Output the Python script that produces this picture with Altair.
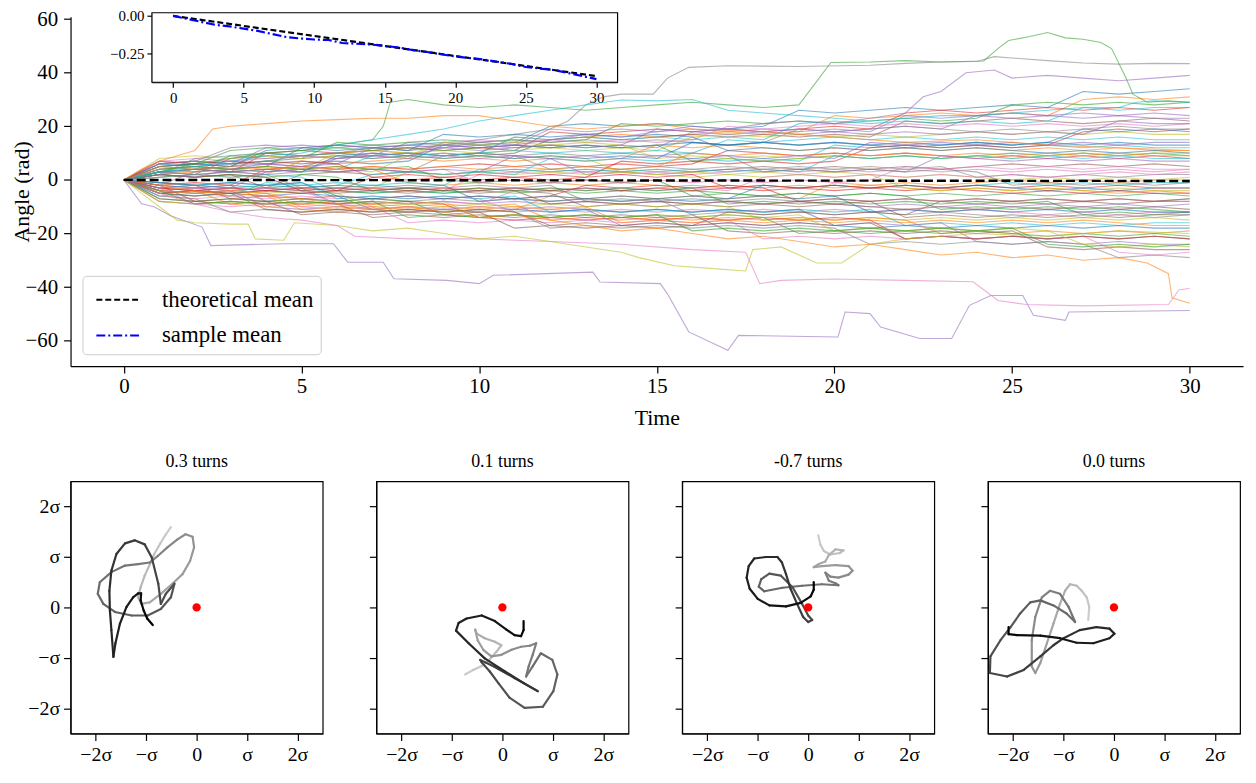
import altair as alt
import pandas as pd

FONT = "Liberation Serif"
TAB10 = ["#1f77b4", "#ff7f0e", "#2ca02c", "#d62728", "#9467bd",
         "#8c564b", "#e377c2", "#7f7f7f", "#bcbd22", "#17becf"]

# ---------------- main panel: simulated angle paths (t = 0..30) ----------------
T_GRID = list(range(31))
WALKS = [
    [0,4,5,4,5,12,13,12,13,14,13,14,20,21,20,21,20,19,20,26,25,26,27,26,27,28,27,33,32,33,34],
    [0,2,3,9,10,9,10,11,10,9,10,16,15,16,17,16,17,18,17,18,24,23,24,25,24,25,24,30,31,30,31],
    [0,6,7,6,7,8,14,13,14,15,14,15,14,15,21,20,21,22,21,22,21,22,23,22,23,28,29,28,29,28,29],
    [0,3,4,3,10,11,10,11,12,11,12,11,18,17,18,19,18,19,18,19,20,19,25,26,25,26,27,26,27,26,27],
    [0,5,6,5,6,5,6,12,11,12,11,12,13,12,13,19,18,19,18,19,18,19,20,19,24,25,24,25,24,25,24],
    [0,1,2,8,9,8,9,10,9,10,9,10,15,16,15,16,17,16,17,16,17,16,22,21,22,23,22,21,22,23,22],
    [0,7,8,7,8,9,8,9,8,14,15,14,15,14,15,14,15,20,19,20,21,20,21,20,21,20,21,20,21,20,21],
    [0,2,8,9,8,9,8,9,14,13,14,15,14,15,14,15,14,13,14,19,18,19,20,19,18,19,18,19,20,19,19],
    [0,4,3,4,5,4,10,11,10,11,10,11,12,11,12,11,16,17,16,17,16,17,16,17,18,17,18,17,18,17,17],
    [0,3,4,3,4,3,4,9,10,9,10,11,10,11,10,11,10,15,14,15,16,15,16,15,16,15,16,15,16,15,15],
    [0,6,5,6,7,6,7,6,7,13,12,13,12,13,12,13,14,13,14,13,14,13,12,13,14,13,14,13,14,13,13],
    [0,1,2,1,2,7,6,7,8,7,8,7,8,7,8,13,12,13,12,11,12,11,12,11,12,11,12,11,12,11,11],
    [0,5,6,11,12,11,12,11,12,11,12,13,12,13,12,13,7,8,7,8,9,8,9,8,9,10,9,10,9,10,9],
    [0,-2,-1,-2,4,5,4,5,4,5,6,5,6,5,6,5,6,11,10,9,10,9,10,9,8,9,8,9,8,9,8],
    [0,3,2,3,2,3,8,9,8,9,8,9,8,2,3,2,3,4,3,4,3,4,3,9,8,7,8,7,8,7,7],
    [0,-4,-3,-4,-3,2,3,2,3,2,3,4,3,4,3,4,3,4,5,4,5,4,5,4,5,6,5,6,5,6,5],
    [0,2,1,2,1,-4,-3,-4,-3,-4,2,3,2,3,2,3,2,3,4,3,4,3,4,3,4,3,4,3,4,3,4],
    [0,5,4,5,10,9,10,9,10,9,10,9,4,5,4,5,4,5,4,5,4,5,4,5,1,2,1,2,1,2,2],
    [0,-3,-2,-3,-2,-3,-2,-3,3,2,3,2,3,2,3,2,1,2,1,2,1,2,1,2,1,0,1,0,1,0,1],
    [0,1,2,1,2,1,-4,-5,-4,-5,-4,-3,-4,-3,-4,-3,-2,-3,-2,-3,-2,-3,-2,-3,-2,-1,-2,-1,-2,-1,-1],
    [0,-2,-3,-2,-3,-2,-3,-2,-3,-2,-8,-7,-8,-7,-8,-7,-8,-7,-2,-3,-2,-3,-2,-3,-2,-3,-4,-3,-4,-3,-3],
    [0,4,5,4,5,4,5,4,-1,-2,-1,-2,-1,-2,-1,-2,-3,-2,-3,-2,-3,-2,-3,-4,-3,-4,-3,-4,-5,-4,-5],
    [0,-5,-4,-5,-4,-5,-4,-5,-4,-5,-4,-5,-4,-5,-4,-5,-4,-5,-6,-5,-6,-5,-6,-5,-6,-5,-6,-5,-6,-5,-6],
    [0,-1,-2,-7,-6,-7,-6,-7,-6,-7,-6,-7,-6,-2,-3,-2,-3,-2,-3,-8,-7,-8,-7,-8,-7,-8,-7,-8,-7,-8,-7],
    [0,-3,-4,-3,-4,-3,-9,-8,-9,-8,-9,-8,-9,-8,-9,-8,-9,-8,-9,-8,-9,-10,-9,-10,-9,-10,-9,-10,-9,-10,-9],
    [0,2,1,2,1,-4,-5,-4,-5,-4,-5,-4,-5,-10,-9,-10,-9,-10,-9,-10,-9,-10,-11,-10,-11,-10,-11,-10,-11,-10,-11],
    [0,-6,-7,-6,-7,-6,-7,-6,-7,-6,-7,-12,-11,-12,-11,-12,-11,-12,-11,-12,-11,-12,-11,-12,-11,-12,-13,-12,-13,-12,-12],
    [0,-2,-3,-2,-8,-7,-8,-7,-8,-7,-8,-7,-8,-7,-8,-7,-13,-12,-13,-12,-13,-12,-13,-12,-13,-14,-13,-14,-13,-14,-13],
    [0,-4,-5,-4,-5,-4,-5,-10,-9,-10,-9,-10,-9,-10,-9,-10,-9,-10,-15,-14,-15,-14,-15,-14,-15,-14,-15,-14,-15,-14,-15],
    [0,-1,-2,-1,-2,-1,-7,-6,-7,-6,-7,-6,-12,-11,-12,-11,-12,-11,-12,-11,-12,-11,-17,-16,-17,-16,-17,-16,-17,-16,-16],
    [0,-5,-6,-5,-6,-5,-6,-11,-12,-11,-12,-11,-12,-11,-12,-11,-12,-11,-12,-11,-17,-18,-17,-18,-17,-18,-17,-18,-17,-18,-18],
    [0,-3,-4,-9,-10,-9,-10,-9,-10,-9,-10,-9,-15,-14,-15,-14,-15,-14,-15,-14,-15,-14,-15,-20,-19,-20,-19,-20,-19,-20,-19],
    [0,-7,-8,-7,-8,-7,-8,-7,-8,-13,-14,-13,-14,-13,-14,-13,-14,-13,-14,-20,-19,-20,-19,-20,-19,-20,-21,-20,-21,-20,-21],
    [0,-2,-8,-9,-8,-9,-8,-9,-8,-9,-14,-15,-14,-15,-14,-15,-14,-15,-14,-15,-14,-15,-22,-21,-22,-21,-22,-21,-22,-21,-22],
    [0,-4,-5,-4,-10,-11,-10,-11,-10,-11,-10,-11,-10,-11,-17,-16,-17,-16,-17,-16,-17,-16,-17,-16,-23,-24,-23,-24,-23,-24,-24],
    [0,-8,-9,-8,-9,-8,-9,-14,-13,-14,-13,-14,-13,-14,-13,-14,-13,-19,-20,-19,-20,-19,-20,-19,-20,-19,-25,-26,-25,-26,-26],
    [0,-3,-9,-10,-9,-10,-9,-10,-16,-15,-16,-15,-16,-15,-16,-15,-16,-15,-22,-21,-22,-21,-22,-21,-22,-21,-22,-21,-27,-28,-27],
    [0,-6,-7,-12,-11,-12,-11,-12,-11,-12,-11,-12,-18,-17,-18,-17,-18,-17,-18,-17,-18,-24,-23,-24,-23,-24,-23,-24,-29,-28,-29],
    [0,3,4,3,4,3,4,3,9,8,9,8,9,8,3,2,3,2,3,2,3,2,-3,-4,-3,-4,-3,-4,-3,-4,-4],
    [0,-3,-2,-3,-2,-3,-2,2,3,2,3,2,8,7,8,7,8,7,8,7,13,12,13,12,13,12,13,12,13,12,12],
    [0,5,6,5,11,12,11,12,11,17,16,17,16,17,16,17,16,11,12,11,12,11,12,11,12,11,10,11,10,11,10],
    [0,-5,-6,-5,-6,-11,-12,-11,-12,-11,-12,-11,-6,-7,-6,-7,-6,-7,-6,-7,-1,-2,-1,-2,-1,0,-1,0,-1,0,0],
    [0,4,5,4,5,4,5,4,5,0,-1,0,-1,0,-1,0,-6,-5,-6,-5,-6,-5,-6,-11,-10,-11,-10,-11,-10,-11,-12],
    [0,-5,-4,-5,-4,-5,-4,1,0,1,0,1,0,1,7,6,7,6,7,6,7,12,13,12,13,12,13,18,19,18,19],
    [0,6,7,6,12,13,12,13,12,13,12,13,19,18,19,18,19,18,19,18,19,18,24,23,24,23,24,23,24,23,23],
    [0,-7,-8,-7,-8,-13,-12,-13,-12,-13,-12,-18,-17,-18,-17,-18,-17,-12,-13,-12,-13,-12,-13,-8,-9,-8,-9,-8,-9,-8,-8],
    [0,-4,-3,-4,-3,-4,-9,-8,-9,-8,-9,-4,-3,-4,-3,-4,-3,-4,1,2,1,2,1,2,1,2,1,2,3,2,3],
    [0,3,2,3,2,-3,-2,-3,-2,-3,-2,-3,-2,-8,-7,-8,-7,-8,-7,-8,-7,-8,-7,-8,-7,-8,-7,-8,-7,-8,-7],
    [0,8,9,8,9,8,9,8,9,14,13,14,13,14,13,8,9,8,9,8,9,8,9,8,9,8,9,10,9,10,10],
    [0,-6,-5,-6,-1,-2,-1,-2,-1,-2,4,3,4,3,4,3,4,3,4,3,9,8,9,8,9,8,9,8,9,8,8],
    [0,3,4,3,4,3,9,8,9,8,9,8,9,8,9,8,14,13,14,13,14,13,14,13,14,13,14,19,18,19,18],
    [0,-4,-5,-4,-5,-10,-11,-10,-11,-10,-11,-10,-11,-10,-16,-15,-16,-15,-16,-15,-16,-15,-16,-15,-16,-15,-16,-15,-16,-17,-17],
    [0,2,1,2,1,2,1,-4,-3,-4,-3,-4,-3,-4,-3,-4,-3,-9,-8,-9,-8,-9,-8,-9,-8,-9,-8,-13,-12,-13,-12],
    [0,-3,-4,-3,-4,-3,-4,-3,-4,-3,-4,-3,-4,-3,-4,-3,-4,-3,-4,-3,-4,-3,-4,-3,-4,-5,-4,-5,-4,-5,-5],
    [0,6,7,12,13,12,13,12,13,12,13,12,13,12,13,12,18,17,18,17,18,17,18,17,18,17,18,17,22,21,21],
    [0,-5,-6,-5,-11,-12,-11,-12,-11,-12,-11,-12,-17,-16,-17,-16,-17,-16,-17,-16,-17,-16,-22,-21,-22,-21,-22,-21,-22,-21,-22],
    [0,4,3,4,3,4,3,4,3,4,-1,0,-1,0,-1,0,-1,0,-1,0,-1,0,5,4,5,4,5,4,5,4,4],
    [0,-2,3,4,3,4,3,4,3,9,10,9,10,9,10,9,10,9,3,4,3,4,3,4,3,-2,-1,-2,-1,-2,-1],
    [0,-8,-9,-8,-9,-8,-9,-8,-9,-8,-14,-13,-14,-13,-14,-13,-14,-13,-14,-13,-19,-18,-19,-18,-19,-18,-19,-24,-25,-24,-25],
    [0,3,4,9,10,9,10,9,10,9,10,16,15,16,15,16,15,16,15,21,22,21,22,21,22,21,22,27,26,27,27],
    [0,-1,-2,-1,-2,-1,-6,-7,-6,-7,-6,-7,-6,-7,-6,-7,-6,-7,-6,-7,-6,-12,-11,-12,-11,-12,-11,-12,-11,-12,-12],
    [0,5,4,5,4,5,4,5,4,5,4,5,4,5,4,5,10,9,10,9,10,9,10,9,10,9,10,9,10,9,9],
    [0,-4,-9,-8,-9,-8,-9,-8,-14,-13,-14,-13,-14,-13,-14,-13,-19,-18,-19,-18,-19,-18,-19,-18,-19,-18,-24,-25,-24,-25,-24],
    [0,7,6,7,6,7,6,1,2,1,2,1,2,1,2,1,2,-3,-2,-3,-2,-3,-2,-3,-2,-3,-2,-3,-2,-3,-3],
    [0,-3,-2,-3,3,4,3,4,3,4,3,9,8,9,8,9,8,9,8,9,8,14,13,14,13,14,13,14,13,14,14],
    [0,2,1,2,-3,-4,-3,-4,-3,-4,-3,-4,-9,-8,-9,-8,-9,-8,-9,-8,-9,-8,-14,-13,-14,-13,-14,-13,-14,-13,-13],
]

# outlying paths: (colour, times, angles)
FEATURED = [
    ("#9467bd",
     [0,0.5,0.85,1.3,2.2,2.45,4.5,5.9,6.3,7.3,7.6,9.1,10,10.4,13.2,13.4,15.1,15.3,15.9,17.0,
      17.3,20.1,20.3,21.0,21.3,22.4,23.3,23.8,24.4,25.3,25.6,26.5,26.6,30],
     [0,-8.9,-10,-13.3,-17.6,-24.5,-23.8,-23.8,-30.7,-30.7,-36.9,-37.5,-38.7,-35.6,-34.4,-38.1,
      -38.7,-42.5,-56.7,-63.6,-58,-58.6,-49.3,-49.9,-54.9,-59.2,-59.2,-46.8,-43.1,-43.1,-50.5,
      -52.4,-49.3,-48.7]),
    ("#e377c2",
     [0,1,2,3,4,5,6,6.5,8,10,12,14,16,17.5,17.9,18.5,20,22,23.9,24.2,24.6,25.4,27,29.4,29.7,30],
     [0,-5,-9,-12,-14,-15,-17,-21,-22,-22,-23,-24,-26,-27,-38.7,-37.5,-37,-37.5,-38,-41,-45,
      -46.5,-47,-46.5,-41,-40.5]),
    ("#2ca02c",
     [0,1,2,3,4,5,6,7,7.3,7.5,8,9,10,11,12,13,14,15,16,17,18,19,19.4,19.9,21,22,23,24.2,24.6,
      24.9,25.5,26,26.5,27,27.5,27.8,28.2,28.4,28.8,29.4,30],
     [0,3,6,8,10,11,13,15,20,29,30,28,27,28,27,26,27,28,29,28,27,28,35,43.8,44,44.5,44,44.4,49,
      52,53.5,55,53,52.5,51.3,49,38.2,32,29,29.5,29]),
    ("#7f7f7f",
     [0,1,2,3,4,5,6,7,8,9,10,11,12,12.5,13,13.5,14,14.9,15.3,15.9,17,19,21,22,23,24,24.5,25,26,
      27,28,29,30],
     [0,2,4,5,7,9,10,12,11,13,15,17,19,22,28,31,32,32,38,42,42.6,42.3,42.8,43.5,44,44.2,46,45.5,
      44.5,43.6,43.2,43.5,43.4]),
    ("#17becf",
     [0,1,2,3,4,5,6,7,8,9,10,11,12,13,14,15,16,17,18,19,20,21,22,23,24,25,26,27,28,28.5,29,30],
     [0,3,5,7,9,10,13,15,17,19,22,24,26,28,29.8,29.5,30,26,25,24,23,22,23,24,24,25,26,27,27,29,
      29.5,29]),
    ("#ff7f0e",
     [0,1,2,3,4,5,6,7,8,9,10,11,12,13,14,15,16,17,18,19,20,21,22,23,24,25,26,27,28,28.8,29.4,
      29.5,30],
     [0,-2,-4,-6,-5,-7,-9,-11,-10,-12,-14,-13,-15,-17,-19,-18,-20,-22,-21,-23,-25,-24,-26,-28,
      -27,-29,-28,-30,-29,-31,-35,-44,-46]),
    ("#bcbd22",
     [0,0.5,1,1.5,2,3,3.5,3.7,4.5,4.8,6,7,8,9,10,11,12,13,14,14.5,15.5,16.5,17.5,17.7,18.5,19.5,
      20.2,21,22,24,26,28,30],
     [0,-5,-10,-15,-16,-16.5,-16.5,-22,-22.5,-16,-17,-19,-18,-20,-22,-21,-23,-25,-27,-29,-32,
      -33,-34,-26,-25,-31,-31,-24,-22,-20,-21,-19,-20]),
    ("#9467bd",
     [0,1,2,3,4,5,6,7,8,9,10,11,12,13,14,15,16,17,18,19,20,21,22,22.5,23,23.7,24.5,25,26,27,28,
      29,30],
     [0,2,1,4,6,5,8,10,9,12,14,13,15,17,16,18,20,19,21,22,21,23,25,31,33,40,41,38,39,38,37,38,39]),
    ("#ff7f0e",
     [0,0.5,1,1.5,2,2.5,3,4,5,6,7,8,9,10,11,12,13,14,15,16,18,20,22,24,26,28,30],
     [0,4,7,9,11,19,20,21,22,22.5,23,23,24,24,22,20,19,20,21,19,18,16,14,15,13,12,11]),
]

# mean curves (inset)
THEO_T = [0, 30]
THEO_M = [0.0, -0.40]
SAMPLE_T = list(range(31))
SAMPLE_M = [0, -0.02, -0.04, -0.06, -0.07, -0.085, -0.10, -0.12, -0.14, -0.15, -0.157,
            -0.16, -0.18, -0.185, -0.19, -0.20, -0.21, -0.228, -0.24, -0.255, -0.27,
            -0.28, -0.29, -0.305, -0.32, -0.34, -0.35, -0.36, -0.38, -0.40, -0.42]

# ---------------- bottom panels: planar trajectories (units of sigma) ----------------
PANEL_TITLES = ["0.3 turns", "0.1 turns", "-0.7 turns", "0.0 turns"]
PANEL_X = [
    [-0.51,-0.61,-0.72,-0.84,-0.93,-1.03,-1.11,-1.16,-1.10,-0.93,-0.71,-0.48,-0.28,-0.13,-0.05,
     -0.08,-0.22,-0.38,-0.58,-0.77,-0.93,-1.16,-1.42,-1.69,-1.92,-1.96,-1.85,-1.62,-1.29,-0.97,
     -0.71,-0.51,-0.44,-0.61,-0.71,-0.76,-0.89,-1.03,-1.23,-1.42,-1.59,-1.69,-1.73,-1.72,-1.69,
     -1.65,-1.61,-1.52,-1.39,-1.26,-1.16,-1.10,-1.11,-1.05,-0.98,-0.87],
    [-0.74,-0.58,-0.41,-0.25,-0.12,-0.02,-0.15,-0.35,-0.51,-0.54,-0.49,-0.38,-0.22,-0.02,0.18,
     0.37,0.54,0.67,0.60,0.52,0.47,0.60,0.76,0.99,1.09,1.01,0.80,0.44,0.14,-0.08,-0.25,-0.41,
     -0.44,-0.15,0.24,0.70,0.44,0.05,-0.35,-0.67,-0.92,-0.87,-0.71,-0.41,-0.15,0.08,0.24,0.37,
     0.42,0.42],
    [0.20,0.24,0.31,0.44,0.63,0.70,0.54,0.41,0.34,0.21,0.11,0.27,0.54,0.80,0.88,0.80,0.60,0.44,
     0.34,0.41,0.54,0.60,0.27,-0.12,-0.51,-0.87,-0.98,-0.93,-0.77,-0.54,-0.31,-0.12,0.00,0.08,
     0.00,-0.10,-0.22,-0.35,-0.44,-0.52,-0.61,-0.84,-1.07,-1.18,-1.22,-1.16,-1.00,-0.77,-0.44,
     -0.15,0.05,0.11,0.11],
    [-0.51,-0.49,-0.54,-0.64,-0.74,-0.87,-0.97,-1.07,-1.20,-1.33,-1.46,-1.56,-1.63,-1.63,-1.56,
     -1.43,-1.27,-1.07,-0.90,-0.77,-0.94,-1.20,-1.46,-1.66,-1.86,-2.05,-2.25,-2.45,-2.46,-2.12,
     -1.79,-1.46,-1.20,-1.00,-0.68,-0.35,-0.09,0.01,-0.09,-0.41,-0.74,-1.07,-1.46,-1.92,-2.09,
     -2.09],
]
PANEL_Y = [
    [1.59,1.45,1.27,1.06,0.85,0.63,0.40,0.20,0.07,0.10,0.27,0.47,0.66,0.92,1.19,1.40,1.45,1.35,
     1.19,1.02,0.89,0.86,0.83,0.70,0.50,0.27,0.07,-0.09,-0.16,-0.16,-0.03,0.20,0.47,0.27,0.07,
     0.47,0.99,1.25,1.33,1.27,1.06,0.73,0.33,-0.06,-0.45,-0.98,-0.71,-0.32,0.01,0.20,0.28,0.28,
     0.14,-0.06,-0.22,-0.35],
    [-1.33,-1.24,-1.16,-1.03,-0.88,-0.75,-0.68,-0.61,-0.52,-0.44,-0.65,-0.84,-0.97,-0.94,-0.84,
     -0.78,-0.76,-0.71,-0.94,-1.17,-1.37,-1.17,-0.91,-1.04,-1.33,-1.66,-1.97,-1.99,-1.79,-1.50,
     -1.27,-1.09,-1.04,-1.18,-1.40,-1.66,-1.51,-1.27,-1.01,-0.71,-0.46,-0.31,-0.22,-0.16,-0.27,
     -0.44,-0.55,-0.57,-0.45,-0.27],
    [1.43,1.25,1.12,1.05,1.08,1.13,1.15,1.04,0.91,0.86,0.80,0.82,0.84,0.82,0.73,0.65,0.59,0.61,
     0.69,0.53,0.48,0.44,0.46,0.43,0.39,0.32,0.41,0.56,0.67,0.63,0.40,0.07,-0.16,-0.25,-0.29,
     -0.19,0.07,0.37,0.66,0.89,1.00,1.00,0.97,0.82,0.59,0.37,0.17,0.04,0.02,0.09,0.22,0.35,0.50],
    [-0.25,0.01,0.20,0.33,0.43,0.46,0.33,0.07,-0.32,-0.71,-1.10,-1.30,-1.17,-0.65,-0.19,0.20,
     0.33,0.27,0.01,-0.29,-0.12,0.04,0.14,0.10,-0.12,-0.39,-0.65,-0.97,-1.30,-1.37,-1.24,-0.97,
     -0.75,-0.61,-0.45,-0.39,-0.42,-0.52,-0.61,-0.71,-0.70,-0.61,-0.56,-0.55,-0.53,-0.39],
]
SIGMA_TICKS = [-2, -1, 0, 1, 2]

# ================= build tables =================
rows = []
for i, vals in enumerate(WALKS):
    for t, v in zip(T_GRID, vals):
        rows.append({"walk": f"g{i}", "t": t, "angle": v, "c": TAB10[i % 10]})
for j, (c, ts, vs) in enumerate(FEATURED):
    for t, v in zip(ts, vs):
        rows.append({"walk": f"f{j}", "t": t, "angle": v, "c": c})
walk_df = pd.DataFrame(rows)
theo_main_df = pd.DataFrame({"t": THEO_T, "angle": THEO_M})

SERIES = ["theoretical mean", "sample mean"]
mean_rows = [{"series": SERIES[0], "t": t, "m": m} for t, m in zip(THEO_T, THEO_M)]
mean_rows += [{"series": SERIES[1], "t": t, "m": m} for t, m in zip(SAMPLE_T, SAMPLE_M)]
mean_df = pd.DataFrame(mean_rows)

W, H = 1181, 352
X_DOM = [-1.5, 31.5]
Y_DOM = [-69.5, 60.9]
IN_Y_DOM = [-0.441, 0.021]
IN_X_RANGE = [82, 551]
IN_Y_RANGE = [66, -4]
SIG_EXPR = ("datum.value == 0 ? '0' : datum.value == 1 ? 'σ' : datum.value == -1 ? '−σ' : "
            "datum.value == 2 ? '2σ' : '−2σ'")
origin_df = pd.DataFrame({"x": [0.0], "y": [0.0]})
SYM_EXPR = "datum.value === 'sample mean' ? 'blue' : 'black'"


def build(sym_color):
    x_main = alt.X("t:Q", scale=alt.Scale(domain=X_DOM, nice=False, zero=False),
                   axis=alt.Axis(title="Time", values=[0, 5, 10, 15, 20, 25, 30], format="d",
                                 labelFontSize=21, titleFontSize=22, labelPadding=3,
                                 titlePadding=11))
    y_main = alt.Y("angle:Q", scale=alt.Scale(domain=Y_DOM, nice=False, zero=False),
                   axis=alt.Axis(title="Angle (rad)", values=[-60, -40, -20, 0, 20, 40, 60],
                                 format="d", labelFontSize=21, titleFontSize=22,
                                 labelPadding=6, titleX=-37, titleY=H / 2,
                                 titleBaseline="bottom"))
    walks = alt.Chart(walk_df).mark_line(strokeWidth=1.1, opacity=0.58).encode(
        x=x_main, y=y_main, stroke=alt.Stroke("c:N", scale=None), detail="walk:N")
    theo_main = alt.Chart(theo_main_df).mark_line(
        color="black", strokeDash=[9, 4], strokeWidth=2.4).encode(x="t:Q", y="angle:Q")
    main_layer = alt.layer(walks, theo_main)

    x_in = alt.X("t:Q", scale=alt.Scale(domain=X_DOM, range=IN_X_RANGE, nice=False, zero=False),
                 axis=alt.Axis(title=None, orient="bottom", offset=IN_Y_RANGE[0] - H,
                               values=[0, 5, 10, 15, 20, 25, 30], format="d", labelFontSize=15,
                               tickSize=5, labelPadding=3))
    y_in = alt.Y("m:Q", scale=alt.Scale(domain=IN_Y_DOM, range=IN_Y_RANGE, nice=False,
                                        zero=False),
                 axis=alt.Axis(title=None, orient="left", offset=-IN_X_RANGE[0],
                               values=[0, -0.25], format=".2f", labelFontSize=15, tickSize=5,
                               labelPadding=3))
    frame_df = pd.DataFrame({"t": [X_DOM[0]], "t2": [X_DOM[1]],
                             "m": [IN_Y_DOM[0]], "m2": [IN_Y_DOM[1]]})
    frame = alt.Chart(frame_df).mark_rect(fill="white", stroke="black",
                                          strokeWidth=1.2).encode(
        x=x_in, x2="t2:Q", y=y_in, y2="m2:Q")

    leg = dict(title=None, orient="none", legendX=12, legendY=261,
               symbolType="M-0.625,0L2.19,0", symbolSize=1024, symbolStrokeWidth=2,
               symbolStrokeColor=sym_color,
               labelFont=FONT, labelFontSize=23, labelOffset=39, padding=7, rowPadding=7,
               strokeColor="#cccccc", fillColor="white", cornerRadius=4)
    inset_lines = alt.Chart(mean_df).mark_line(strokeWidth=2.2).encode(
        x="t:Q", y="m:Q",
        color=alt.Color("series:N", scale=alt.Scale(domain=SERIES, range=["black", "blue"]),
                        legend=None),
        strokeDash=alt.StrokeDash("series:N",
                                  scale=alt.Scale(domain=SERIES,
                                                  range=[[6, 3], [9, 3, 2, 3]]),
                                  legend=alt.Legend(**leg)),
        detail="series:N")
    inset_layer = alt.layer(frame, inset_lines)

    top = alt.layer(main_layer, inset_layer).resolve_scale(
        x="independent", y="independent").resolve_axis(
        x="independent", y="independent").properties(width=W, height=H)

    def panel(title, xs, ys, show_y):
        n = len(xs)
        seg = pd.DataFrame({"x": xs[:-1], "y": ys[:-1], "x2": xs[1:], "y2": ys[1:],
                            "k": [i / (n - 2) for i in range(n - 1)]})
        sc = alt.Scale(domain=[-2.5, 2.5], nice=False, zero=False)
        ax = alt.Axis(title=None, values=SIGMA_TICKS, labelExpr=SIG_EXPR, labelFontSize=20,
                      labelPadding=4)
        ay = alt.Axis(title=None, values=SIGMA_TICKS, labelExpr=SIG_EXPR, labelFontSize=20,
                      labels=show_y, labelPadding=4)
        lines = alt.Chart(seg).mark_rule(strokeWidth=2.2, strokeCap="round").encode(
            x=alt.X("x:Q", scale=sc, axis=ax), y=alt.Y("y:Q", scale=sc, axis=ay),
            x2="x2:Q", y2="y2:Q",
            color=alt.Color("k:Q", scale=alt.Scale(domain=[0, 1],
                                                   range=["#cccccc", "#000000"]),
                            legend=None))
        dot = alt.Chart(origin_df).mark_circle(size=70, color="red", opacity=1).encode(
            x="x:Q", y="y:Q")
        return alt.layer(lines, dot).properties(
            width=254, height=254,
            title=alt.TitleParams(title, fontSize=18, font=FONT, fontWeight="normal",
                                  offset=10),
            view=alt.ViewBackground(stroke="black", strokeWidth=1.2))

    panels = [panel(PANEL_TITLES[i], PANEL_X[i], PANEL_Y[i], i == 0) for i in range(4)]
    bottom = alt.hconcat(*panels, spacing=54, bounds="flush")

    return alt.vconcat(top, bottom, spacing=24).properties(
        padding={"left": 3, "top": -3, "right": 5, "bottom": 5}
    ).configure(font=FONT).configure_view(stroke=None).configure_axis(
        domainColor="black", domainWidth=1.2, tickColor="black", tickWidth=1.2, tickSize=7,
        labelColor="black", titleColor="black", grid=False, labelFont=FONT, titleFont=FONT,
        titleFontWeight="normal"
    ).configure_title(color="black").configure_legend(symbolBaseStrokeColor="black")


chart = None
for sc in [alt.ExprRef(expr=SYM_EXPR), {"expr": SYM_EXPR}, "black"]:
    try:
        cand = build(sc)
        cand.to_dict()
        chart = cand
        break
    except Exception:
        continue

chart.save("out.html", embed_options={"renderer": "svg", "actions": False})
